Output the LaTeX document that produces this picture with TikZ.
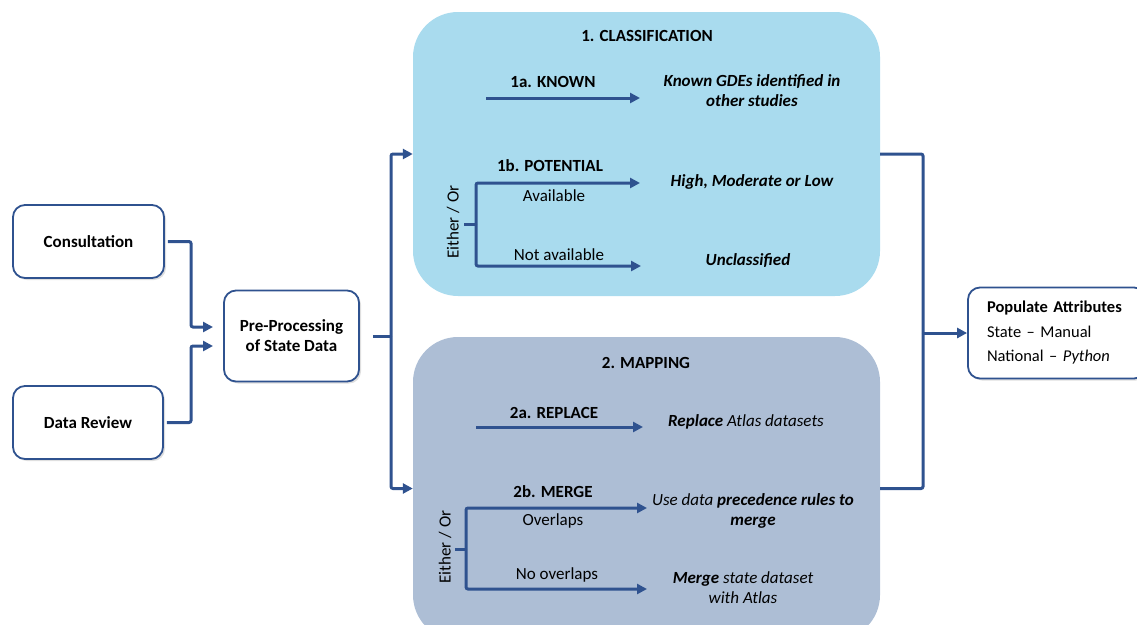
\documentclass[tikz,border=0pt]{standalone}
\usepackage{fontspec}
\setmainfont{Carlito}
\usepackage{tikz}
\usetikzlibrary{arrows.meta}
\usetikzlibrary{shadows}

\definecolor{linecol}{RGB}{47,82,143}
\definecolor{classfill}{RGB}{169,219,238}
\definecolor{mapfill}{RGB}{173,190,213}
\newcommand{\basefont}{\fontsize{17}{20}\selectfont}

\tikzset{
  box/.style={draw=linecol, line width=1.8pt, rounded corners=12pt, fill=white, align=center,
    font=\basefont\bfseries, drop shadow={opacity=0.25, shadow xshift=2pt, shadow yshift=-2pt}},
  panel/.style={rounded corners=45pt, minimum width=467pt, inner sep=0pt},
  wire/.style={draw=linecol, line width=3pt, rounded corners=2pt},
  flow/.style={wire, -{Triangle[length=10pt, width=10pt]}},
  steplabel/.style={font=\basefont\bfseries},
  result/.style={font=\basefont\bfseries\itshape, align=center},
  branch/.style={font=\basefont},
}

\begin{document}
\begin{tikzpicture}[x=1pt, y=-1pt]
        \useasboundingbox (0,0) rectangle (1137,624);
        \clip (0,0) rectangle (1137,624);

        \node[box, minimum width=151pt, minimum height=73pt] (cons) at (88.5,241.5) {Consultation};
        \node[box, minimum width=150pt, minimum height=73pt] (review) at (88,422.5) {Data Review};
        \node[box, minimum width=135pt, minimum height=91pt] (pre) at (291.5,336) {Pre-Processing\\of State Data};

        \node[panel, fill=classfill, minimum height=284pt] (class) at (646.5,154) {};
        \node[panel, fill=mapfill, minimum height=303pt] (map) at (646.5,488.5) {};

        \node[box, align=left, font=\fontsize{16.5}{24.5}\selectfont, text width=140pt, inner xsep=19pt,
          minimum height=91pt] (pop) at (1057,333)
          {\textbf{Populate Attributes}\\State -- Manual\\National -- \textit{Python}};

        \node[steplabel] (classtitle) at (647,36) {1. CLASSIFICATION};
        \node[steplabel] (known) at (553,82) {1a. KNOWN};
        \node[result] (knownout) at (752,91) {Known GDEs identified in\\other studies};
        \node[steplabel] (potential) at (550,166) {1b. POTENTIAL};
        \node[branch] (avail) at (554,196) {Available};
        \node[branch] (notavail) at (559,255) {Not available};
        \node[branch, rotate=90] (eitherone) at (453,222) {Either / Or};
        \node[result] (hml) at (752,182) {High, Moderate or Low};
        \node[result] (uncl) at (748,261) {Unclassified};

        \node[steplabel] (maptitle) at (646,363) {2. MAPPING};
        \node[steplabel] (replace) at (554,413) {2a. REPLACE};
        \node[branch, font=\basefont\itshape] (replaceout) at (746,422) {\textbf{Replace} Atlas datasets};
        \node[steplabel] (merge) at (553,492) {2b. MERGE};
        \node[branch] (overlap) at (553,521) {Overlaps};
        \node[branch] (nooverlap) at (557,575) {No overlaps};
        \node[branch, rotate=90] (eithertwo) at (445,547) {Either / Or};
        \node[branch, font=\basefont\itshape, align=center] (rules) at (753,511) {Use data \textbf{precedence rules to}\\\textbf{merge}};
        \node[branch, font=\basefont\itshape, align=center] (mergeout) at (743,588) {\textbf{Merge} state dataset\\with Atlas};

        \coordinate (split) at (391,336);
        \coordinate (join) at (923,333);
        \coordinate (ka) at (486,98);
        \coordinate (kb) at (640,98);
        \coordinate (pstub) at (464,224);
        \coordinate (pfork) at (476,224);
        \coordinate (pa) at (640,183);
        \coordinate (pb) at (641,266);
        \coordinate (ra) at (476,427);
        \coordinate (rb) at (643,427);
        \coordinate (mstub) at (455,549);
        \coordinate (mfork) at (466,549);
        \coordinate (ma) at (647,508);
        \coordinate (mb) at (647,589);

        \draw[flow, shorten <=3pt] (cons.east) -| (191,327) -- (213,327);
        \draw[flow, shorten <=3pt] (review.east) -| (191,346) -- (213,346);
        \draw[wire, shorten <=13pt] (pre.east) -- (split);
        \draw[flow] (split) |- (class.west);
        \draw[flow] (split) |- (map.west);
        \draw[wire] (class.east) -| (join);
        \draw[wire] (map.east) -| (join);
        \draw[flow] (join) -- (pop.west);

        \draw[flow] (ka) -- (kb);
        \draw[wire] (pstub) -- (pfork);
        \draw[flow] (pfork) |- (pa);
        \draw[flow] (pfork) |- (pb);
        \draw[flow] (ra) -- (rb);
        \draw[wire] (mstub) -- (mfork);
        \draw[flow] (mfork) |- (ma);
        \draw[flow] (mfork) |- (mb);
\end{tikzpicture}
\end{document}
